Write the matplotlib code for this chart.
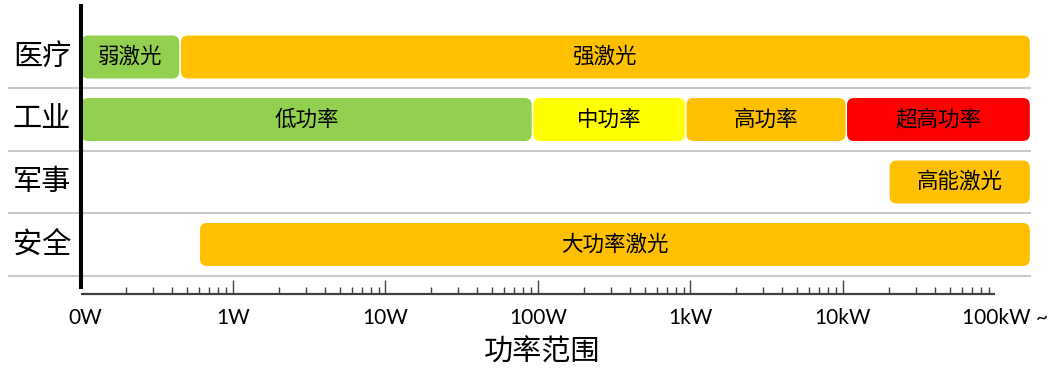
import numpy as np
import matplotlib
matplotlib.use("Agg")
import matplotlib.pyplot as plt
from matplotlib.patches import FancyBboxPatch
from matplotlib.transforms import IdentityTransform, ScaledTranslation

# ---- data -------------------------------------------------------------
categories = ['医疗', '工业', '军事', '安全']

med_labels = ['弱激光', '强激光']
med_edges = [0.1, 0.45, 170000]
med_colors = ['#92D050', '#FFC000']

ind_labels = ['低功率', '中功率', '高功率', '超高功率']
ind_edges = [0.1, 92, 930, 10500, 170000]
ind_colors = ['#92D050', '#FFFF00', '#FFC000', '#FF0000']

mil_labels = ['高能激光']
mil_edges = [20000, 170000]
mil_colors = ['#FFC000']

sec_labels = ['大功率激光']
sec_edges = [0.6, 170000]
sec_colors = ['#FFC000']

tick_watts = [0.1, 1, 10, 100, 1000, 10000, 100000]
tick_labels = ['0W', '1W', '10W', '100W', '1kW', '10kW', '100kW ~']
x_title = '功率范围'

rows = [
    (med_labels, med_edges, med_colors),
    (ind_labels, ind_edges, ind_colors),
    (mil_labels, mil_edges, mil_colors),
    (sec_labels, sec_edges, sec_colors),
]

# ---- figure -----------------------------------------------------------
DPI = 100
W, H = 1057, 375
fig = plt.figure(figsize=(W / DPI, H / DPI), dpi=DPI)
ax = fig.add_axes([0, 0, 1, 1])
ax.set_xscale('log')
# one decade = 152.5 px, 0.1 W sits at x = 80.5 px
dec = 152.5
x_at_01 = 80.5
ax.set_xlim(10 ** (-1 - x_at_01 / dec), 10 ** (-1 + (W - x_at_01) / dec))
# rows: centre of row 0 at 57 px, 62.5 px per row
row0, rstep = 57.0, 62.5
ax.set_ylim((H - row0) / rstep, -row0 / rstep)
ax.axis('off')

def py(p):
    """pixel row (from top) -> y data value"""
    return (p - row0) / rstep

def shifted(dx_px):
    return ax.transData + ScaledTranslation(dx_px / DPI, 0, fig.dpi_scale_trans)

cjk = ['Noto Sans CJK SC', 'DejaVu Sans']
bar_h = 43 / rstep
x_end_grid = med_edges[-1]

# separators between rows
for i in range(len(categories)):
    ax.hlines(i + 0.5, 10 ** (-1 - (x_at_01 - 8) / dec), x_end_grid,
              color='#C8C8C8', lw=1.5, zorder=1)

fig.canvas.draw()
ident = IdentityTransform()
for i, (labels, edges, colors) in enumerate(rows):
    for j, lab in enumerate(labels):
        a, b = edges[j], edges[j + 1]
        (x0, y0) = ax.transData.transform((a, i + bar_h / 2))
        (x1, y1) = ax.transData.transform((b, i - bar_h / 2))
        gap = 0.8
        patch = FancyBboxPatch((x0 + gap, y0), (x1 - x0) - 2 * gap, y1 - y0,
                               boxstyle='round,pad=0,rounding_size=7',
                               transform=ident, facecolor=colors[j],
                               edgecolor='none', zorder=3)
        ax.add_patch(patch)
        ax.text(np.sqrt(a * b), i, lab, ha='center', va='center',
                fontsize=15.5, family=cjk, color='black', zorder=4)

# category labels
for i, c in enumerate(categories):
    ax.text(10 ** (-1 - (x_at_01 - 42) / dec), i, c, ha='center', va='center',
            fontsize=21, family=cjk, color='black')

# left thick axis line
ax.vlines(0.1, py(4), py(289), color='black', lw=2.9, zorder=5)

# bottom axis with log ticks
y_axis = py(293.5)
ax.hlines(y_axis, 0.1, 1e5, color='#404040', lw=1.6, zorder=5)
for d in range(-1, 5):
    for k in range(2, 10):
        ax.vlines(k * 10.0 ** d, py(287), y_axis, color='#404040', lw=1.0, zorder=5)
    if d >= 0:
        ax.vlines(10.0 ** d, py(280), y_axis, color='#404040', lw=1.0, zorder=5)

for v, lab in zip(tick_watts, tick_labels):
    if lab.endswith('~'):
        ax.text(v, py(318), lab, ha='left', va='center', fontsize=15,
                family='Lato', color='black', transform=shifted(-33))
    elif v == tick_watts[0]:
        ax.text(v, py(318), lab, ha='center', va='center', fontsize=15,
                family='Lato', color='black', transform=shifted(5))
    else:
        ax.text(v, py(318), lab, ha='center', va='center', fontsize=15,
                family='Lato', color='black')

ax.text(10 ** (-1 + (542 - x_at_01) / dec), py(353), x_title, ha='center',
        va='center', fontsize=21, family=cjk, color='black')

fig.savefig('out.png', dpi=DPI)
